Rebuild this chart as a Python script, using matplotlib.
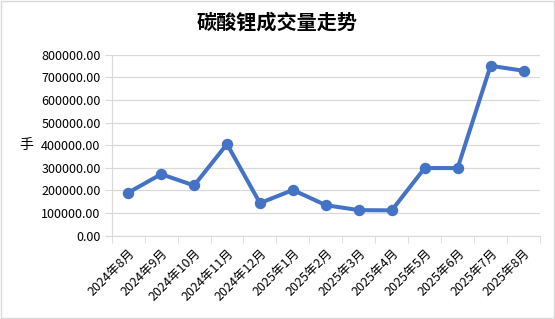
import matplotlib.pyplot as plt
from matplotlib.patches import Rectangle

plt.rcParams['font.family'] = ['Noto Sans CJK SC', 'DejaVu Sans']

# data
months = ["2024年8月", "2024年9月", "2024年10月", "2024年11月", "2024年12月",
          "2025年1月", "2025年2月", "2025年3月", "2025年4月", "2025年5月",
          "2025年6月", "2025年7月", "2025年8月"]
volume = [190000, 272000, 222000, 405000, 144000, 202000, 135000,
          113000, 112000, 299000, 299000, 751000, 729000]
y_ticks = [0, 100000, 200000, 300000, 400000, 500000, 600000, 700000, 800000]

fig = plt.figure(figsize=(5.55, 3.19), dpi=100)
ax = fig.add_axes([111.7 / 555, 1 - 235.7 / 319, (540 - 111.7) / 555, (235.7 - 54.7) / 319])

x = list(range(len(months)))
ax.plot(x, volume, color="#4472C4", linewidth=2.9, marker="o", markersize=7.2,
        solid_capstyle="round", solid_joinstyle="round")

ax.set_xlim(-0.5, len(months) - 0.5)
ax.set_ylim(0, 800000)
ax.set_yticks(y_ticks)
ax.set_yticklabels([f"{v:.2f}" for v in y_ticks], fontsize=9)
ax.yaxis.grid(True, color="#d9d9d9", linewidth=0.9)
ax.set_axisbelow(True)
ax.tick_params(axis="y", length=5, color="#d9d9d9", pad=3)

# category labels at centres, tick marks at boundaries
ax.set_xticks(x)
ax.set_xticklabels(months, rotation=45, ha="right", va="top",
                   rotation_mode="anchor", fontsize=9)
ax.tick_params(axis="x", length=0, pad=8)
ax.set_xticks([i - 0.5 for i in range(len(months) + 1)], minor=True)
ax.tick_params(axis="x", which="minor", length=5, color="#d9d9d9")

for side in ["top", "right"]:
    ax.spines[side].set_visible(False)
ax.spines["left"].set_color("#d9d9d9")
ax.spines["bottom"].set_color("#d9d9d9")

ax.set_ylabel("手", rotation=0, fontsize=10, labelpad=12, va="center")
ax.yaxis.set_label_coords(-0.2, 0.5)

fig.text(0.5, 1 - 22 / 319, "碳酸锂成交量走势", ha="center", va="center",
         fontsize=14.5, fontweight="bold")

fig.patches.append(Rectangle((0.002, 0.003), 0.996, 0.994, transform=fig.transFigure,
                             fill=False, edgecolor="#d9d9d9", linewidth=1))

fig.savefig("out.png", dpi=100)
